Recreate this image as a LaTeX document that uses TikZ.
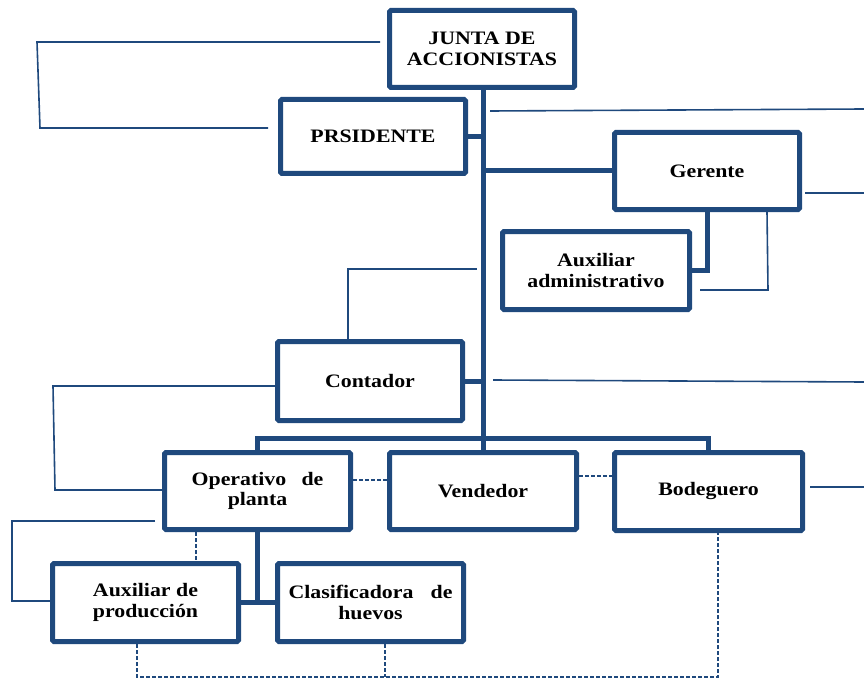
\documentclass[tikz,border=0pt]{standalone}
\usepackage{fontspec}
\setmainfont{Liberation Serif}[FakeStretch=1.15]
\definecolor{orgblue}{RGB}{31,73,125}
\begin{document}
\begin{tikzpicture}[x=1pt,y=-1pt,
  unit/.style={draw=orgblue,line width=5pt,rounded corners=1.5pt,fill=white,
    align=center,inner sep=2pt,
    font=\fontsize{19}{20.5}\selectfont\bfseries},
  link/.style={draw=orgblue,line width=5pt},
  thin/.style={draw=orgblue,line width=1.6pt},
  dot/.style={draw=orgblue,line width=1.6pt,dash pattern=on 4pt off 2pt}]
\useasboundingbox (0,0) rectangle (864,679);

% positions
\node[unit,minimum width=185pt,minimum height=77pt] (junta) at (482,49) {JUNTA DE\\ACCIONISTAS};
\node[unit,minimum width=185pt,minimum height=74pt] (pres) at (373,136.5) {PRSIDENTE};
\node[unit,minimum width=185pt,minimum height=77pt] (ger) at (707,171) {Gerente};
\node[unit,minimum width=187pt,minimum height=78pt] (auxadm) at (596,270.5) {Auxiliar\\administrativo};
\node[unit,minimum width=185pt,minimum height=79pt] (cont) at (370,381) {Contador};
\node[unit,minimum width=186pt,minimum height=77pt] (oper) at (257.5,491) {Operativo\hspace{0.8em}de\\planta};
\node[unit,minimum width=187pt,minimum height=77pt] (vend) at (483,491) {Vendedor};
\node[unit,minimum width=188pt,minimum height=78pt] (bod) at (708.5,491.5) {Bodeguero};
\node[unit,minimum width=186pt,minimum height=78pt] (auxprod) at (145.5,602.5) {Auxiliar de\\producción};
\node[unit,minimum width=186pt,minimum height=78pt] (clas) at (370.5,602.5) {Clasificadora\hspace{0.9em}de\\huevos};

% main hierarchy
\coordinate (bar) at (483,438);
\draw[link] (vend.north) -- (vend.north |- junta.south);
\draw[link] (pres.east) -- (pres.east -| vend.north);
\draw[link] (ger.west) -- (ger.west -| vend.north);
\draw[link] (cont.east) -- (cont.east -| vend.north);
\draw[link] (oper.north) |- (bar) -| (bod.north);
\draw[link] (ger.south) |- (auxadm.east);
\coordinate (opfork) at (257.5,602.5);
\draw[link] (oper.south) -- (opfork);
\draw[link] (auxprod.east) -- (clas.west);

% thin side lines
\coordinate (j1) at (380,42); \coordinate (j2) at (37,42);
\coordinate (j3) at (40,128); \coordinate (j4) at (268,128);
\draw[thin] (j1) -- (j2) -- (j3) -- (j4);
\coordinate (r1a) at (490,111); \coordinate (r1b) at (864,109);
\draw[thin] (r1a) -- (r1b);
\coordinate (g1) at (805,193); \coordinate (g2) at (864,193);
\draw[thin] (g1) -- (g2);
\coordinate (ga) at (767,212); \coordinate (gb) at (768,290); \coordinate (gc) at (700,290);
\draw[thin] (ga) -- (gb) -- (gc);
\coordinate (c1) at (348,339); \coordinate (c2) at (348,269); \coordinate (c3) at (477,269);
\draw[thin] (c1) -- (c2) -- (c3);
\coordinate (r2a) at (493,380); \coordinate (r2b) at (864,382);
\draw[thin] (r2a) -- (r2b);
\coordinate (k1) at (275,386); \coordinate (k2) at (53,386);
\coordinate (k3) at (55,490); \coordinate (k4) at (162,490);
\draw[thin] (k1) -- (k2) -- (k3) -- (k4);
\coordinate (b1) at (810,487); \coordinate (b2) at (864,487);
\draw[thin] (b1) -- (b2);
\coordinate (p1) at (155,521); \coordinate (p2) at (12,521);
\coordinate (p3) at (12,601); \coordinate (p4) at (50,601);
\draw[thin] (p1) -- (p2) -- (p3) -- (p4);

% dashed links
\draw[dot] ([yshift=11pt]oper.east) -- ([yshift=11pt]oper.east -| vend.west);
\draw[dot] ([yshift=15pt]vend.east) -- ([yshift=15pt]vend.east -| bod.west);
\coordinate (d1) at (196,532); \coordinate (d2) at (196,561);
\draw[dot] (d1) -- (d2);
\coordinate (e1) at (137,644); \coordinate (e2) at (137,677);
\coordinate (e3) at (718,677); \coordinate (e4) at (718,533);
\draw[dot] (e1) -- (e2) -- (e3) -- (e4);
\coordinate (f1) at (385,644); \coordinate (f2) at (385,677);
\draw[dot] (f1) -- (f2);
\end{tikzpicture}
\end{document}
